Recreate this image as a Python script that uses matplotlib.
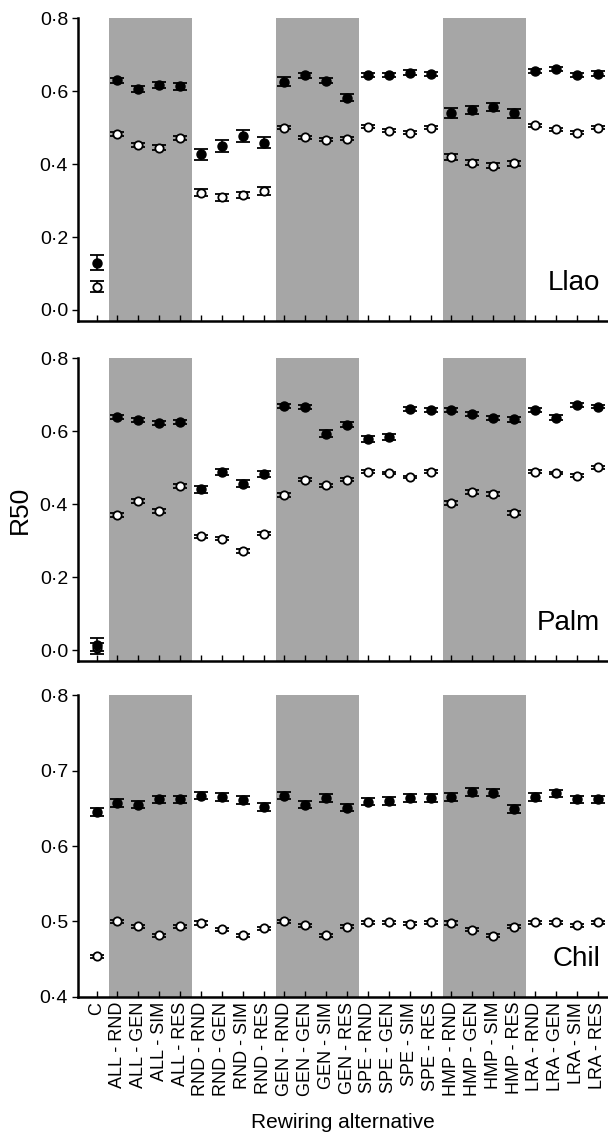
import numpy as np
import matplotlib.pyplot as plt

# Rewiring alternatives (x categories)
cats = ["C",
        "ALL - RND", "ALL - GEN", "ALL - SIM", "ALL - RES",
        "RND - RND", "RND - GEN", "RND - SIM", "RND - RES",
        "GEN - RND", "GEN - GEN", "GEN - SIM", "GEN - RES",
        "SPE - RND", "SPE - GEN", "SPE - SIM", "SPE - RES",
        "HMP - RND", "HMP - GEN", "HMP - SIM", "HMP - RES",
        "LRA - RND", "LRA - GEN", "LRA - SIM", "LRA - RES"]

# Llao
llao_filled = [0.13, 0.630, 0.607, 0.616, 0.613, 0.427, 0.450, 0.477, 0.459,
               0.626, 0.644, 0.628, 0.582, 0.644, 0.644, 0.651, 0.647,
               0.540, 0.548, 0.557, 0.539, 0.656, 0.660, 0.644, 0.648]
llao_filled_err = [0.020, 0.007, 0.008, 0.008, 0.009, 0.015, 0.016, 0.016, 0.014,
                   0.012, 0.007, 0.007, 0.010, 0.006, 0.006, 0.006, 0.006,
                   0.014, 0.012, 0.011, 0.013, 0.006, 0.006, 0.006, 0.006]
llao_open = [0.064, 0.482, 0.452, 0.445, 0.472, 0.322, 0.309, 0.315, 0.326,
             0.500, 0.473, 0.467, 0.470, 0.502, 0.491, 0.486, 0.500,
             0.420, 0.404, 0.395, 0.402, 0.506, 0.496, 0.486, 0.500]
llao_open_err = [0.015, 0.006, 0.006, 0.006, 0.006, 0.010, 0.010, 0.009, 0.010,
                 0.005, 0.005, 0.005, 0.005, 0.004, 0.004, 0.004, 0.004,
                 0.008, 0.007, 0.007, 0.007, 0.004, 0.004, 0.004, 0.004]

# Palm
palm_filled = [0.015, 0.639, 0.632, 0.623, 0.626, 0.441, 0.489, 0.457, 0.484,
               0.669, 0.667, 0.594, 0.618, 0.580, 0.584, 0.662, 0.659,
               0.658, 0.647, 0.636, 0.633, 0.659, 0.638, 0.673, 0.668]
palm_filled_err = [0.018, 0.006, 0.006, 0.006, 0.006, 0.010, 0.009, 0.010, 0.008,
                   0.005, 0.005, 0.009, 0.007, 0.008, 0.008, 0.005, 0.005,
                   0.006, 0.006, 0.006, 0.006, 0.005, 0.006, 0.005, 0.005]
palm_open = [0.005, 0.370, 0.409, 0.381, 0.450, 0.312, 0.306, 0.272, 0.320,
             0.425, 0.468, 0.452, 0.468, 0.489, 0.486, 0.475, 0.489,
             0.404, 0.434, 0.429, 0.376, 0.489, 0.486, 0.478, 0.502]
palm_open_err = [0.015, 0.005, 0.005, 0.005, 0.005, 0.005, 0.005, 0.005, 0.005,
                 0.005, 0.005, 0.005, 0.005, 0.004, 0.004, 0.004, 0.004,
                 0.005, 0.005, 0.005, 0.005, 0.004, 0.004, 0.004, 0.004]

# Chil
chil_filled = [0.645, 0.657, 0.655, 0.662, 0.662, 0.667, 0.665, 0.661, 0.652,
               0.667, 0.655, 0.664, 0.651, 0.659, 0.660, 0.664, 0.664,
               0.665, 0.672, 0.671, 0.649, 0.665, 0.670, 0.662, 0.662]
chil_filled_err = [0.005] * 25
chil_open = [0.454, 0.500, 0.494, 0.482, 0.494, 0.498, 0.490, 0.482, 0.491,
             0.500, 0.495, 0.482, 0.493, 0.499, 0.499, 0.497, 0.499,
             0.498, 0.489, 0.481, 0.493, 0.499, 0.499, 0.495, 0.499]
chil_open_err = [0.002] * 25

panels = [("Llao", llao_filled, llao_filled_err, llao_open, llao_open_err),
          ("Palm", palm_filled, palm_filled_err, palm_open, palm_open_err),
          ("Chil", chil_filled, chil_filled_err, chil_open, chil_open_err)]
ylims = [(-0.03, 0.8), (-0.03, 0.8), (0.4, 0.8)]
yticks = [[0.0, 0.2, 0.4, 0.6, 0.8], [0.0, 0.2, 0.4, 0.6, 0.8],
          [0.4, 0.5, 0.6, 0.7, 0.8]]
bands = [(0.6, 4.55), (8.6, 12.55), (16.6, 20.55)]

plt.rcParams['font.family'] = ['Liberation Sans', 'DejaVu Sans']

fig = plt.figure(figsize=(6.08, 11.38), dpi=100)
boxes = [(0.128, 0.718, 0.872, 0.266),
         (0.128, 0.419, 0.872, 0.266),
         (0.128, 0.124, 0.872, 0.265)]
x = np.arange(len(cats))

for k, (name, yf, ef, yo, eo) in enumerate(panels):
    ax = fig.add_axes(boxes[k])
    for a, b in bands:
        ax.axvspan(a, b, color='#a6a6a6', lw=0, zorder=0)
    ax.errorbar(x, yo, yerr=eo, fmt='o', ms=6, mfc='white', mec='black',
                mew=1.3, ecolor='black', elinewidth=1.2, capsize=5, capthick=1.3,
                zorder=3)
    ax.errorbar(x, yf, yerr=ef, fmt='o', ms=6.5, mfc='black', mec='black',
                ecolor='black', elinewidth=1.2, capsize=5, capthick=1.3,
                zorder=4)
    ax.set_xlim(-0.9, 24.5)
    ax.set_ylim(*ylims[k])
    ax.set_yticks(yticks[k])
    ax.set_yticklabels([f"{v:.1f}".replace(".", "\u00b7") for v in yticks[k]],
                       fontsize=14)
    ax.spines['top'].set_visible(False)
    ax.spines['right'].set_visible(False)
    ax.spines['left'].set_linewidth(1.8)
    ax.spines['bottom'].set_linewidth(1.8)
    ax.spines['left'].set_bounds(ylims[k][0], 0.8)
    ax.tick_params(axis='y', direction='out', length=4, width=1, pad=3)
    ax.tick_params(axis='x', direction='in', length=4, width=1)
    ax.set_xticks(x)
    if k == 2:
        ax.set_xticklabels(cats, rotation=90, fontsize=13)
        ax.set_xlabel("Rewiring alternative", fontsize=15, labelpad=12)
    else:
        ax.set_xticklabels([])
    if k == 1:
        ax.set_ylabel("R50", fontsize=19, labelpad=6)
    ax.text(0.985, 0.125, name, transform=ax.transAxes, ha='right', va='center',
            fontsize=20)

fig.savefig("out.png", dpi=100)
